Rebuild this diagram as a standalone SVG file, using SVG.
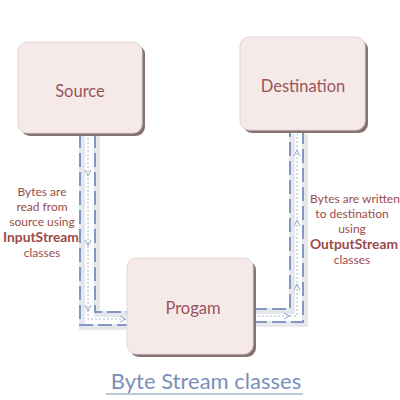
<svg xmlns="http://www.w3.org/2000/svg" width="400" height="400" viewBox="0 0 400 400">
<defs>
<style>
.box{fill:#f6e9e9;stroke:#e6d6d6;stroke-width:1}
.shadow{fill:#857373}
.ntext{font-family:"Lato","Open Sans",sans-serif;font-size:16.5px;fill:#9b5558;text-anchor:middle}
.lbl{font-family:"Lato","Open Sans",sans-serif;font-size:12px;fill:#9b4b4b;text-anchor:middle}
.lblb{font-weight:bold;font-size:13.8px}
.dash{fill:none;stroke:#8298c2;stroke-width:2;stroke-dasharray:14 5}
.halo{fill:none;stroke:#e6e7ec;stroke-width:6}
.mid{fill:none;stroke:#a9b6d2;stroke-width:1;stroke-dasharray:2 2}
.ah{fill:none;stroke:#9aa9cc;stroke-width:1}
.title{font-family:"Lato","Open Sans",sans-serif;font-size:22px;fill:#7b8fba;text-anchor:middle}
</style>
</defs>
<rect width="400" height="400" fill="#ffffff"/>
<g id="connectors">
<path class="halo" d="M82 134 V327 H127 M97 134 V314 H127"/>
<path class="halo" d="M253 311 H292 V134 M253 324 H305 V134"/>
<path class="dash" d="M80 134 V325 H127"/>
<path class="dash" d="M95 134 V312 H127"/>
<path class="mid" d="M88 134 V319 H126"/>
<path class="ah" d="M85 170 L88 176 L91 170 M85 240 L88 246 L91 240 M85 305 L88 311 L91 305 M120 316 L126 319 L120 322"/>
<path class="dash" d="M253 309 H290 V133"/>
<path class="dash" d="M253 322 H303 V133"/>
<path class="mid" d="M254 316 H297 V134"/>
<path class="ah" d="M294 156 L297 150 L300 156 M294 226 L297 220 L300 226 M294 290 L297 284 L300 290 M284 313 L290 316 L284 319"/>
</g>
<g id="source">
<rect class="shadow" x="21" y="45" width="124" height="91" rx="9"/>
<rect class="box" x="18" y="42" width="124" height="91" rx="9"/>
<text class="ntext" x="80" y="97">Source</text>
</g>
<g id="destination">
<rect class="shadow" x="243" y="40" width="125" height="93" rx="9"/>
<rect class="box" x="240" y="37" width="125" height="93" rx="9"/>
<text class="ntext" x="303" y="92">Destination</text>
</g>
<g id="program">
<rect class="shadow" x="130" y="261" width="126" height="96" rx="9"/>
<rect class="box" x="127" y="258" width="126" height="96" rx="9"/>
<text class="ntext" x="193" y="314">Progam</text>
</g>
<g id="label-left">
<text class="lbl" x="42" y="196">Bytes are</text>
<text class="lbl" x="42" y="211">read from</text>
<text class="lbl" x="42" y="226">source using</text>
<text class="lbl lblb" x="41" y="242">InputStream</text>
<text class="lbl" x="42" y="257">classes</text>
</g>
<g id="label-right">
<text class="lbl" x="355" y="203">Bytes are written</text>
<text class="lbl" x="352" y="218">to destination</text>
<text class="lbl" x="352" y="233">using</text>
<text class="lbl lblb" x="354" y="249">OutputStream</text>
<text class="lbl" x="352" y="264">classes</text>
</g>
<g id="title">
<text class="title" x="206" y="389">Byte Stream classes</text>
<line x1="106" y1="394" x2="303" y2="394" stroke="#7b8fba" stroke-width="1"/>
</g>
</svg>
